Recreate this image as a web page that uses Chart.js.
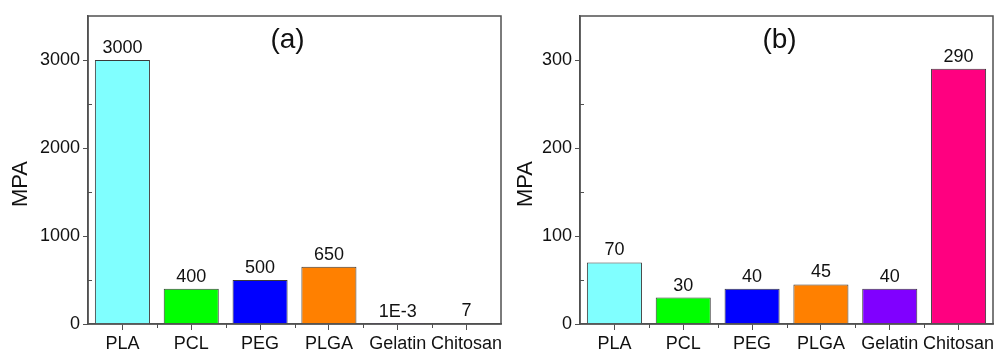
<!DOCTYPE html>
<html>
<head>
<meta charset="utf-8">
<script src="https://cdn.jsdelivr.net/npm/chart.js@4/dist/chart.umd.min.js"></script>
<style>
  body { margin: 0; background: #fff; }
  #wrap { position: relative; width: 995px; height: 354px; overflow: hidden; }
  canvas { position: absolute; top: 0; }
</style>
</head>
<body>
<div id="wrap">
  <canvas id="chartA" width="505" height="354" style="left:0"></canvas>
  <canvas id="chartB" width="490" height="354" style="left:505px"></canvas>
</div>
<script>
// --- data ---
const categories = ['PLA', 'PCL', 'PEG', 'PLGA', 'Gelatin', 'Chitosan'];
const valuesA = [3000, 400, 500, 650, 0.001, 7];
const valuesB = [70, 30, 40, 45, 40, 290];
const barColors = ['#80FFFF', '#00FF00', '#0000FF', '#FF8000', '#8000FF', '#FF0080'];
const yTicksA = [0, 1000, 2000, 3000];
const yTicksB = [0, 100, 200, 300];
const yMaxA = 3500, yMaxB = 350;
const yTitle = 'MPA';

const FONT = "'Liberation Sans', Arial, sans-serif";
const AXIS = '#505050';
const TEXT = '#111';

Chart.defaults.font.family = FONT;
Chart.defaults.color = TEXT;

const fmtValue = v => v < 0.01 ? v.toExponential(0).toUpperCase() : String(v);

// frame, minor ticks, value labels, y title and panel letter
const decorPlugin = {
    id: 'decor',
    afterDraw(chart, args, opts) {
        const { ctx, chartArea: ca, scales } = chart;
        const x = scales.x, y = scales.y;
        ctx.save();
        ctx.strokeStyle = AXIS;
        ctx.lineWidth = 1.5;
        ctx.strokeRect(ca.left, ca.top, ca.right - ca.left, ca.bottom - ca.top);

        // minor ticks on y (inward), halfway between majors
        const step = opts.ticks[1] - opts.ticks[0];
        ctx.lineWidth = 1;
        ctx.beginPath();
        for (let v = step / 2; v < opts.max; v += step) {
            const py = Math.round(y.getPixelForValue(v)) + 0.5;
            ctx.moveTo(ca.left, py);
            ctx.lineTo(ca.left + 4, py);
        }
        // minor ticks on x (outward, between categories)
        for (let i = 0; i < categories.length - 1; i++) {
            const px = Math.round((x.getPixelForValue(i) + x.getPixelForValue(i + 1)) / 2) + 0.5;
            ctx.moveTo(px, ca.bottom);
            ctx.lineTo(px, ca.bottom + 4);
        }
        ctx.stroke();

        // value labels
        ctx.fillStyle = TEXT;
        ctx.font = '18px ' + FONT;
        ctx.textAlign = 'center';
        ctx.textBaseline = 'alphabetic';
        const meta = chart.getDatasetMeta(0);
        meta.data.forEach((bar, i) => {
            const v = chart.data.datasets[0].data[i];
            ctx.fillText(fmtValue(v), bar.x, bar.y - 7);
        });

        // panel letter
        ctx.font = '28px ' + FONT;
        ctx.textBaseline = 'middle';
        ctx.fillText(opts.letter, (ca.left + ca.right) / 2 - 7, ca.top + 24);

        // y title
        ctx.font = '22px ' + FONT;
        ctx.translate(21, 184);
        ctx.rotate(-Math.PI / 2);
        ctx.fillText(yTitle, 0, 0);
        ctx.restore();
    }
};

function makePanel(id, values, letter, yTicks, yMax, axisWidth, rightPad) {
    return new Chart(document.getElementById(id), {
        type: 'bar',
        data: {
            labels: categories,
            datasets: [{
                data: values,
                backgroundColor: barColors,
                borderColor: '#3a3a3a',
                borderWidth: 1,
                barPercentage: 0.8,
                categoryPercentage: 1
            }]
        },
        options: {
            responsive: false,
            animation: false,
            layout: { padding: { top: 16, right: rightPad, bottom: 0, left: 0 } },
            plugins: {
                legend: { display: false },
                tooltip: { enabled: false },
                decor: { letter: letter, max: yMax, ticks: yTicks }
            },
            scales: {
                x: {
                    grid: { drawOnChartArea: false, offset: false, tickLength: 6, color: AXIS, tickColor: AXIS },
                    border: { color: AXIS, width: 1.5 },
                    ticks: { font: { size: 18 }, color: TEXT, padding: 3, maxRotation: 0, autoSkip: false },
                    afterFit(s) { s.height = 30; s.paddingLeft = 0; s.paddingRight = 0; }
                },
                y: {
                    min: 0, max: yMax,
                    grid: { drawOnChartArea: false, tickLength: 5, color: AXIS, tickColor: AXIS },
                    border: { color: AXIS, width: 1.5 },
                    ticks: { font: { size: 18 }, color: TEXT, padding: 3, autoSkip: false,
                             callback: v => String(v) },
                    afterBuildTicks(s) { s.ticks = yTicks.map(v => ({ value: v })); },
                    afterFit(s) { s.width = axisWidth; s.paddingTop = 0; s.paddingBottom = 0; }
                }
            }
        },
        plugins: [decorPlugin]
    });
}

makePanel('chartA', valuesA, '(a)', yTicksA, yMaxA, 88, 4);
makePanel('chartB', valuesB, '(b)', yTicksB, yMaxB, 75, 2);
</script>
</body>
</html>
